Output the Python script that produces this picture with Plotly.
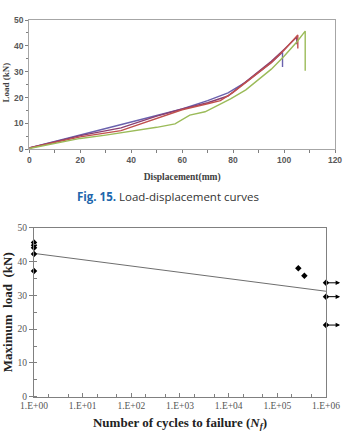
import numpy as np
import plotly.graph_objects as go

# ---------------- Top chart data: load-displacement curves ----------------
disp_a = [0, 10, 20, 30, 40, 50, 60, 70, 78, 85, 90, 95, 99.4, 99.4]
load_a = [0.5, 3.0, 5.6, 8.1, 10.6, 13.1, 15.6, 18.8, 21.8, 26.0, 29.8, 33.6, 37.5, 31.8]

disp_b = [0, 10, 20, 36, 50, 60, 70, 78, 85, 90, 95, 100, 105.0, 105.0]
load_b = [0.5, 2.9, 5.3, 8.3, 12.8, 15.6, 18.0, 20.6, 26.0, 29.9, 34.0, 38.6, 43.4, 40.6]

disp_c = [0, 10, 20, 36, 50, 60, 70, 75, 80, 85, 90, 95, 100, 102, 105.4, 105.4]
load_c = [0.5, 2.7, 4.8, 7.2, 12.0, 15.3, 17.6, 18.8, 22.0, 25.8, 29.5, 33.5, 38.3, 40.4, 44.2, 39.0]

disp_d = [0, 10, 20, 30, 40, 50, 57.2, 63, 69, 74, 79, 85, 90, 95, 100, 105, 108.3, 108.3]
load_d = [0.3, 2.3, 4.2, 5.5, 6.9, 8.5, 9.8, 13.2, 14.5, 17.0, 19.5, 23.0, 27.0, 31.0, 36.0, 41.5, 45.7, 30.4]

# ---------------- Bottom chart data: fatigue results ----------------
static_N = [1, 1, 1, 1, 1]
static_load = [45.6, 44.8, 44.1, 42.2, 37.2]
fail_N = [2.7e5, 3.6e5]
fail_load = [38.0, 35.8]
runout_N = [1e6, 1e6, 1e6]
runout_load = [33.7, 29.6, 21.2]
fit_N = [1, 1e6]
fit_load = [42.4, 31.2]

x_ticks = [1, 10, 100, 1000, 10000, 100000, 1000000]
x_ticktext = ["1.E+00", "1.E+01", "1.E+02", "1.E+03", "1.E+04", "1.E+05", "1.E+06"]

fig = go.Figure()

colors = ["#6a62ad", "#8a3f72", "#c0504d", "#9bbb59"]
for dx, ly, c in zip([disp_a, disp_b, disp_c, disp_d], [load_a, load_b, load_c, load_d], colors):
    fig.add_trace(go.Scatter(x=dx, y=ly, mode="lines", line=dict(color=c, width=1.4),
                             xaxis="x", yaxis="y", showlegend=False, hoverinfo="skip"))

# bottom chart
fig.add_trace(go.Scatter(x=fit_N, y=fit_load, mode="lines", line=dict(color="#6e6e6e", width=1),
                         xaxis="x2", yaxis="y2", showlegend=False))
fig.add_trace(go.Scatter(x=static_N + fail_N + runout_N, y=static_load + fail_load + runout_load,
                         mode="markers", marker=dict(symbol="diamond", size=5, color="black"),
                         xaxis="x2", yaxis="y2", showlegend=False, cliponaxis=False))

annotations = []
for n, l in zip(runout_N, runout_load):
    annotations.append(dict(x=np.log10(n) + 0.29, y=l, ax=np.log10(n), ay=l,
                            xref="x2", yref="y2", axref="x2", ayref="y2",
                            showarrow=True, arrowhead=2, arrowsize=0.9, arrowwidth=1,
                            arrowcolor="black", text=""))

annotations.append(dict(x=0.49, y=0.547, xref="paper", yref="paper", showarrow=False,
                        text="<b><span style='color:#2166ac'>Fig. 15.</span></b> Load-displacement curves",
                        font=dict(family="Open Sans", size=11.5, color="#333333")))

annotations.append(dict(x=0.018, y=0.81, xref="paper", yref="paper", showarrow=False, textangle=-90,
                        xanchor="center", yanchor="middle",
                        text="<b>Load (kN)</b>", font=dict(family="Liberation Serif", size=9, color="#404040")))

fig.update_layout(
    width=343, height=433,
    margin=dict(l=0, r=0, t=0, b=0),
    paper_bgcolor="white", plot_bgcolor="white",
    annotations=annotations,
    xaxis=dict(domain=[0.0854, 0.9767], anchor="y", range=[0, 120], tickvals=[0, 20, 40, 60, 80, 100, 120],
               automargin=False,
               ticks="outside", ticklen=3, tickcolor="#7f7f7f",
               minor=dict(dtick=10, ticks="outside", ticklen=3, tickcolor="#7f7f7f"),
               showline=True, linecolor="#a6a6a6", linewidth=1, mirror=True, showgrid=False, zeroline=False,
               tickfont=dict(family="Liberation Sans", size=8.5, color="#595959", weight="bold"),
               title=dict(text="<b>Displacement(mm)</b>", standoff=8,
                          font=dict(family="Liberation Serif", size=9.5, color="#404040"))),
    yaxis=dict(domain=[0.6552, 0.9538], anchor="x", range=[0, 50], tickvals=[0, 10, 20, 30, 40, 50],
               automargin=False,
               ticks="outside", ticklen=3, tickcolor="#7f7f7f",
               minor=dict(dtick=5, ticks="outside", ticklen=2, tickcolor="#7f7f7f"),
               showline=True, linecolor="#a6a6a6", linewidth=1, mirror=True, showgrid=False, zeroline=False,
               tickfont=dict(family="Liberation Sans", size=8.5, color="#595959", weight="bold")),
    xaxis2=dict(domain=[0.0991, 0.9504], anchor="y2", type="log", range=[0, 6],
                automargin=False,
                tickvals=x_ticks, ticktext=x_ticktext, ticks="inside", ticklen=4, tickcolor="#808080",
                minor=dict(ticks="inside", ticklen=3, tickcolor="#808080"),
                showline=True, linecolor="#808080", linewidth=1, mirror=True, showgrid=False, zeroline=False,
                tickfont=dict(family="Liberation Serif", size=9.5, color="#555555"),
                title=dict(text="<b>Number of cycles to failure (<i>N<sub>f</sub></i>)</b>", standoff=7,
                           font=dict(family="Liberation Serif", size=13, color="#222222"))),
    yaxis2=dict(domain=[0.0838, 0.4741], anchor="x2", range=[0, 50], tickvals=[0, 10, 20, 30, 40, 50],
                automargin=False,
                ticks="outside", ticklen=4, tickcolor="#808080",
                minor=dict(dtick=5, ticks="inside", ticklen=3, tickcolor="#808080"),
                showline=True, linecolor="#808080", linewidth=1, mirror=True, showgrid=False, zeroline=False,
                tickfont=dict(family="Liberation Serif", size=9.5, color="#555555"),
                title=dict(text="<b>Maximum  load  (kN)</b>", standoff=6,
                           font=dict(family="Liberation Serif", size=13, color="#222222"))),
)

fig.write_html("out.html")
